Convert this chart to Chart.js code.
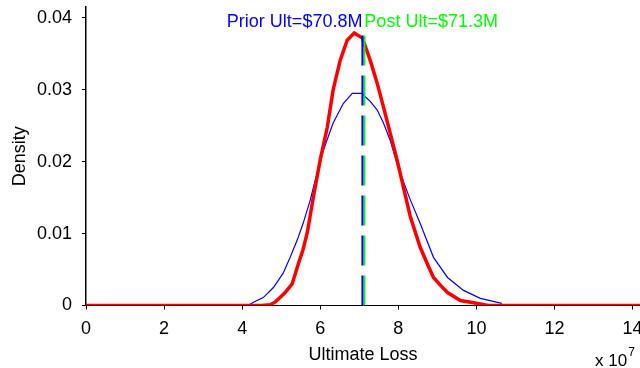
<!DOCTYPE html>
<html>
<head>
<meta charset="utf-8">
<script src="https://cdn.jsdelivr.net/npm/chart.js@4.4.1/dist/chart.umd.min.js"></script>
<style>
  html, body { margin: 0; padding: 0; background: #fff; }
  #wrap { width: 640px; height: 368px; }
</style>
</head>
<body>
<div id="wrap"><canvas id="lossChart" width="640" height="368"></canvas></div>
<script>
// ultimate loss in units of 1e7
const xTicks = [0, 2, 4, 6, 8, 10, 12, 14];
const yTicks = [0, 0.01, 0.02, 0.03, 0.04];

const priorMean = 7.08;
const postMean = 7.13;
const meanLineTop = 0.0376;

const priorX = [4.15, 4.3, 4.54, 4.8, 5.05, 5.23, 5.41, 5.56, 5.74, 5.87, 6.08, 6.33, 6.59, 6.82, 7.08, 7.16, 7.28, 7.46, 7.62, 7.79, 8.0, 8.3, 8.56, 8.9, 9.26, 9.67, 10.1, 10.65];
const priorY = [0, 0.0005, 0.0011, 0.0025, 0.0045, 0.0067, 0.0091, 0.0114, 0.0146, 0.0174, 0.0216, 0.0254, 0.0281, 0.0295, 0.0295, 0.029, 0.0284, 0.0272, 0.0254, 0.023, 0.0191, 0.0148, 0.0114, 0.0067, 0.0039, 0.0021, 0.001, 0.0003];

const postX = [0, 4.5, 4.72, 4.85, 4.97, 5.1, 5.28, 5.44, 5.56, 5.67, 5.82, 6.0, 6.18, 6.33, 6.51, 6.69, 6.87, 7.08, 7.28, 7.46, 7.62, 7.79, 7.97, 8.15, 8.31, 8.56, 8.75, 8.9, 9.1, 9.26, 9.59, 10.0, 10.3, 14.19];
const postY = [0, 0, 0.0001, 0.0005, 0.0011, 0.0018, 0.003, 0.0058, 0.0078, 0.0102, 0.015, 0.0203, 0.0248, 0.03, 0.0341, 0.0369, 0.0379, 0.0372, 0.0341, 0.0309, 0.0276, 0.024, 0.0202, 0.016, 0.0123, 0.0081, 0.0057, 0.0039, 0.0027, 0.0018, 0.0007, 0.0003, 0, 0];

const toPoints = (xs, ys) => xs.map((x, i) => ({ x, y: ys[i] }));
const FONT = '"Liberation Sans", Arial, sans-serif';

Chart.defaults.font.family = FONT;
Chart.defaults.font.size = 18;
Chart.defaults.color = "#000";

// mean labels sit just above the top, anchored to their dashed lines
const meanLabels = {
  id: "meanLabels",
  afterDraw(chart) {
    const { ctx, chartArea } = chart;
    const xs = chart.scales.x;
    const y = chartArea.top + 20;
    ctx.save();
    ctx.font = "18px " + FONT;
    ctx.textBaseline = "alphabetic";
    ctx.fillStyle = "#0000ff";
    ctx.textAlign = "right";
    ctx.fillText("Prior Ult=$" + (priorMean * 10).toFixed(1) + "M", xs.getPixelForValue(priorMean), y);
    ctx.fillStyle = "#00ff00";
    ctx.textAlign = "left";
    ctx.fillText("Post Ult=$" + (postMean * 10).toFixed(1) + "M", xs.getPixelForValue(postMean), y);
    ctx.restore();
  },
};

const exponentLabel = {
  id: "exponentLabel",
  afterDraw(chart) {
    const { ctx, chartArea } = chart;
    const x = chartArea.right - 45;
    ctx.save();
    ctx.fillStyle = "#000";
    ctx.textAlign = "left";
    ctx.textBaseline = "alphabetic";
    ctx.font = "17px " + FONT;
    ctx.fillText("x 10", x, 366);
    const w = ctx.measureText("x 10").width;
    ctx.font = "12px " + FONT;
    ctx.fillText("7", x + w + 1, 356);
    ctx.restore();
  },
};

const ctx = document.getElementById("lossChart").getContext("2d");
new Chart(ctx, {
  type: "line",
  data: {
    datasets: [
      {
        data: toPoints([priorMean, priorMean], [0, meanLineTop]),
        borderColor: "#0000ff",
        borderWidth: 2,
        borderDash: [30, 10],
        order: 0,
      },
      {
        data: toPoints([postMean, postMean], [0, meanLineTop]),
        borderColor: "#00ff00",
        borderWidth: 2,
        borderDash: [30, 10],
        order: 0,
      },
      {
        label: "Posterior",
        data: toPoints(postX, postY),
        borderColor: "#ff0000",
        borderWidth: 3.5,
        order: 1,
      },
      {
        label: "Prior",
        data: toPoints(priorX, priorY),
        borderColor: "#0000ff",
        borderWidth: 1.2,
        order: 2,
      },
    ],
  },
  options: {
    responsive: false,
    animation: false,
    layout: { padding: { top: 7, left: 0, right: 0, bottom: 0 } },
    elements: {
      point: { radius: 0 },
      line: { tension: 0, fill: false },
    },
    plugins: {
      legend: { display: false },
      tooltip: { enabled: false },
    },
    scales: {
      x: {
        type: "linear",
        min: 0,
        max: 14.19,
        afterBuildTicks: (axis) => {
          axis.ticks = xTicks.map((value) => ({ value }));
        },
        afterFit: (axis) => {
          axis.height = 62.5;
          axis.paddingLeft = 0;
          axis.paddingRight = 0;
        },
        ticks: { padding: 9, maxRotation: 0 },
        grid: {
          drawOnChartArea: false,
          tickLength: 4,
          color: "#000",
        },
        border: { color: "#000", width: 1 },
        title: {
          display: true,
          text: "Ultimate Loss",
          padding: { top: 0, bottom: 2 },
        },
      },
      y: {
        min: 0,
        max: 0.04153,
        afterBuildTicks: (axis) => {
          axis.ticks = yTicks.map((value) => ({ value }));
        },
        afterFit: (axis) => {
          axis.width = 86;
          axis.paddingTop = 0;
          axis.paddingBottom = 0;
        },
        ticks: {
          padding: 10,
          callback: (value) => (value === 0 ? "0" : value.toFixed(2)),
        },
        grid: {
          drawOnChartArea: false,
          tickLength: 4,
          color: "#000",
        },
        border: { color: "#000", width: 1.5 },
        title: {
          display: true,
          text: "Density",
          padding: { top: 9, bottom: 0 },
        },
      },
    },
  },
  plugins: [meanLabels, exponentLabel],
});
</script>
</body>
</html>
